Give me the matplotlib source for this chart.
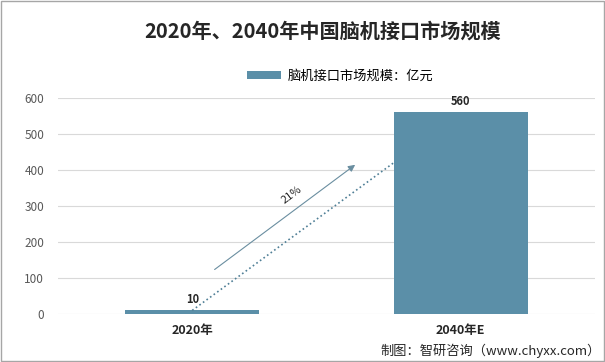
import matplotlib.pyplot as plt
from matplotlib.patches import Rectangle

plt.rcParams['font.family'] = ['Noto Sans CJK SC', 'DejaVu Sans']

categories = ['2020年', '2040年E']
values = [10, 560]
growth_label = '21%'
bar_color = '#5b8fa8'

fig = plt.figure(figsize=(6.05, 3.62), dpi=100)
ax = fig.add_axes([58 / 605, 1 - 314 / 362, 537 / 605, 216 / 362])

x = range(len(categories))
ax.bar(x, values, width=0.5, color=bar_color, zorder=3, label='脑机接口市场规模：亿元')
for xi, v in zip(x, values):
    ax.text(xi, v + 12, str(v), ha='center', va='bottom', fontsize=8, fontweight='bold', color='#262626')

ax.set_xlim(-0.5, 1.5)
ax.set_ylim(0, 600)
ax.set_yticks(range(0, 601, 100))
ax.set_xticks(list(x))
ax.set_xticklabels(categories, fontsize=9, fontweight='bold', color='#262626')
ax.tick_params(axis='y', labelsize=8.5, labelcolor='#595959', length=0, pad=10)
ax.tick_params(axis='x', length=0, pad=7)
ax.grid(axis='y', color='#d9d9d9', linewidth=0.8, zorder=0)
for s in ax.spines.values():
    s.set_visible(False)

# growth arrow and dotted trend
ax.annotate('', xy=(0.615, 419), xytext=(0.075, 119),
            arrowprops=dict(arrowstyle='-|>', color='#6a8ea0', lw=0.8, mutation_scale=10), zorder=4)
ax.plot([0.0, 0.75], [values[0], 420], linestyle=':', color='#4f7f96', lw=1.2, zorder=4)
ax.text(0.37, 330, growth_label, rotation=37, ha='center', va='center', fontsize=8, color='#262626')

fig.text(0.533, 0.915, '2020年、2040年中国脑机接口市场规模', ha='center', va='center',
         fontsize=14.5, fontweight='bold', color='#262626')
leg = ax.legend(loc='upper center', bbox_to_anchor=(0.525, 1.185), frameon=False, fontsize=9.5,
                handlelength=2.6, handleheight=0.5, handletextpad=0.5)
fig.text(0.993, 0.03, '制图：智研咨询（www.chyxx.com）', ha='right', va='center', fontsize=9.5, color='#262626')

fig.patches.append(Rectangle((0.002, 0.003), 0.996, 0.994, transform=fig.transFigure,
                             fill=False, edgecolor='#a6a6a6', lw=1))
fig.savefig('out.png', dpi=100)
